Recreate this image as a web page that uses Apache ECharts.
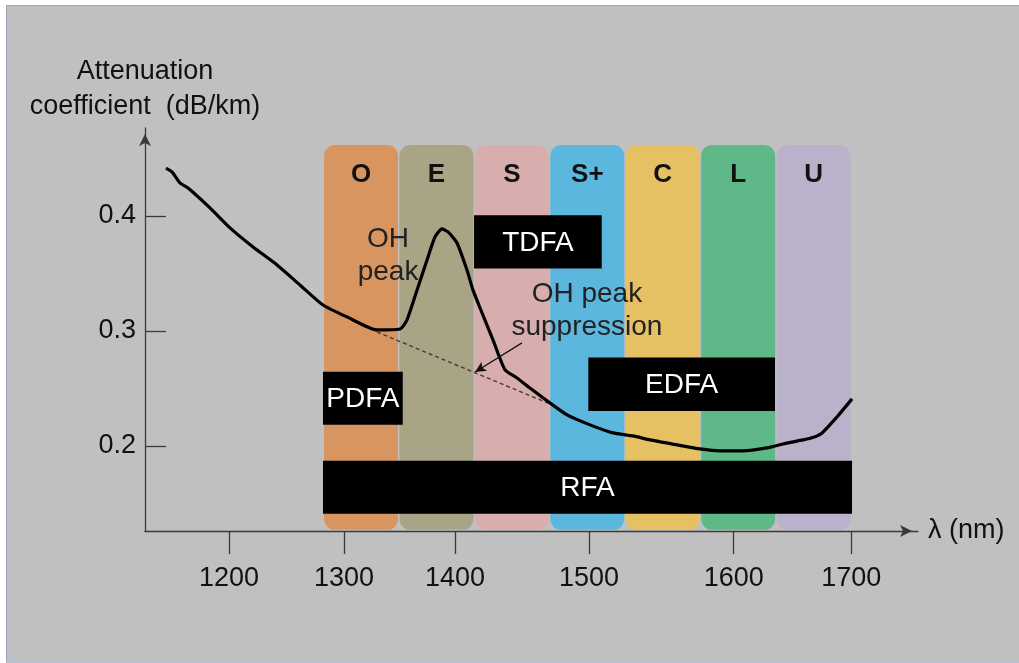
<!DOCTYPE html>
<html><head><meta charset="utf-8">
<script src="https://cdn.jsdelivr.net/npm/echarts@6/dist/echarts.min.js"></script>
<style>
html,body{margin:0;padding:0;background:#fff;}
#bg{position:absolute;left:6px;top:5px;width:1013px;height:654px;background:#c0c0c0;border-left:1px solid #9aa4b4;border-top:1px solid #9aa4b4;border-bottom:3px solid #b9c1cd;}
#chart{position:absolute;left:0;top:0;width:1019px;height:663px;}
</style></head><body>
<div id="bg"></div><div id="chart"></div>
<script>
// ---- data ----
const bandNames = ['O','E','S','S+','C','L','U'];
const bandEdges = [1275.8,1336.4,1397.0,1457.6,1518.2,1578.8,1639.4,1700.0];
const bandTop = 0.4617, bandBottom = 0.127;

const ampNames = ['RFA','PDFA','TDFA','EDFA'];
const ampFrom  = [1275.5,1275.5,1396.9,1488.7];
const ampTo    = [1700.6,1339.6,1499.5,1638.7];
const ampHigh  = [0.1870,0.2646,0.4006,0.2768];
const ampLow   = [0.1409,0.2183,0.3542,0.2304];

const wavelength = [1149.4,1154.2,1160.6,1167.1,1184.7,1200.8,1219.3,1238.6,1257.0,1275.5,1294.8,1318.9,1337.4,1343.0,1351.1,1359.1,1365.5,1371.1,1376.0,1383.2,1391.2,1396.0,1403.3,1412.1,1421.8,1431.4,1441.8,1457.9,1471.6,1490.1,1508.5,1524.6,1538.3,1560.0,1578.4,1594.5,1613.0,1632.3,1645.1,1661.2,1668.4,1676.5,1688.5,1700.6];
const attenuation = [0.4417,0.4383,0.4287,0.4243,0.4070,0.3896,0.3730,0.3574,0.3400,0.3226,0.3122,0.3009,0.3017,0.3096,0.3357,0.3617,0.3817,0.3887,0.3861,0.3765,0.3530,0.3357,0.3157,0.2922,0.2661,0.2591,0.2504,0.2374,0.2270,0.2183,0.2113,0.2087,0.2052,0.2009,0.1974,0.1957,0.1957,0.1983,0.2017,0.2052,0.2070,0.2113,0.2252,0.2409];

const suppressionX = [1318.9, 1457.9];
const suppressionY = [0.2991, 0.2365];
const arrowFrom = [1435.4, 0.2896];
const arrowTo   = [1397.7, 0.2643];

const noteTexts = ['OH\npeak', 'OH peak\nsuppression'];
const noteX = [1327.8, 1487.6];
const noteY = [0.3652, 0.3174];

const xTickValues = [1200, 1292.4, 1381.6, 1489.3, 1605.5, 1700];
const xTickLabels = ['1200','1300','1400','1500','1600','1700'];
const yTickValues = [0.2, 0.3, 0.4];
const yTickLabels = ['0.2','0.3','0.4'];

// ---- styles ----
const bandColors = ['#d9955f','#aaa486','#d7aead','#5cb7df','#e6c163','#5eb887','#b9b2ca'];
const FONT = '"Liberation Sans", Arial, sans-serif';
const AX = '#3a3a3a';

function nearestLabel(vals, labels, v){
  let best = 0;
  for (let i = 1; i < vals.length; i++) if (Math.abs(vals[i]-v) < Math.abs(vals[best]-v)) best = i;
  return labels[best];
}

const chart = echarts.init(document.getElementById('chart'), null, {renderer:'canvas'});
chart.setOption({
  animation:false,
  backgroundColor:'transparent',
  grid:{left:145, right:101, top:128, bottom:132, containLabel:false, outerBoundsMode:'none'},
  xAxis:{
    type:'value', min:1132.5, max:1753.6,
    axisLine:{show:true, onZero:false, lineStyle:{color:AX, width:1.3}, symbol:['none','arrow'], symbolSize:[9,12], symbolOffset:[0,-6]},
    axisTick:{show:true, customValues:xTickValues, length:23, lineStyle:{color:AX, width:1.3}},
    axisLabel:{customValues:xTickValues, formatter:v=>nearestLabel(xTickValues,xTickLabels,v), margin:34, fontSize:27, color:'#111', fontFamily:FONT},
    splitLine:{show:false},
    name:'λ (nm)', nameLocation:'end', nameGap:10,
    nameTextStyle:{fontSize:27, color:'#111', fontFamily:FONT, padding:[0,0,12,0]}
  },
  yAxis:{
    type:'value', min:0.126, max:0.4765,
    axisLine:{show:true, onZero:false, lineStyle:{color:AX, width:1.3}, symbol:['none','arrow'], symbolSize:[9,12], symbolOffset:[0,-6]},
    axisTick:{show:true, customValues:yTickValues, inside:true, length:21, lineStyle:{color:AX, width:1.3}},
    axisLabel:{customValues:yTickValues, formatter:v=>nearestLabel(yTickValues,yTickLabels,v), margin:9, fontSize:27, color:'#111', fontFamily:FONT, padding:[0,0,14,0]},
    splitLine:{show:false},
    name:'Attenuation\ncoefficient  (dB/km)', nameLocation:'end', nameGap:4,
    nameTextStyle:{fontSize:27, lineHeight:35, color:'#111', fontFamily:FONT, align:'center'}
  },
  series:[
    {
      type:'custom', name:'bands', z:1, silent:true,
      data: bandNames.map((n,i)=>[bandEdges[i], bandEdges[i+1], bandTop, bandBottom]),
      encode:{x:[0,1], y:[2,3]},
      renderItem:function(params, api){
        const i = params.dataIndex;
        const p0 = api.coord([api.value(0), api.value(2)]);
        const p1 = api.coord([api.value(1), api.value(3)]);
        return {type:'group', children:[
          {type:'rect', shape:{x:p0[0]+0.7, y:p0[1], width:p1[0]-p0[0]-1.4, height:p1[1]-p0[1], r:11}, style:{fill:bandColors[i]}},
          {type:'text', style:{text:bandNames[i], x:(p0[0]+p1[0])/2, y:p0[1]+30, align:'center', verticalAlign:'middle', font:'bold 26px '+FONT, fill:'#111'}}
        ]};
      }
    },
    {
      type:'custom', name:'amplifiers', z:2, silent:true,
      data: ampNames.map((n,i)=>[ampFrom[i], ampTo[i], ampHigh[i], ampLow[i]]),
      encode:{x:[0,1], y:[2,3]},
      renderItem:function(params, api){
        const i = params.dataIndex;
        const p0 = api.coord([api.value(0), api.value(2)]);
        const p1 = api.coord([api.value(1), api.value(3)]);
        return {type:'group', children:[
          {type:'rect', shape:{x:p0[0], y:p0[1], width:p1[0]-p0[0], height:p1[1]-p0[1]}, style:{fill:'#000'}},
          {type:'text', style:{text:ampNames[i], x:(p0[0]+p1[0])/2, y:(p0[1]+p1[1])/2+1, align:'center', verticalAlign:'middle', font:'28px '+FONT, fill:'#fff'}}
        ]};
      }
    },
    {
      type:'line', name:'suppressed', z:3, silent:true, showSymbol:false,
      data: suppressionX.map((x,i)=>[x, suppressionY[i]]),
      lineStyle:{color:'#4a3a30', width:1.4, type:[4,3]},
      markLine:{silent:true, symbol:['none','arrow'], symbolSize:[8,11], label:{show:false},
        lineStyle:{color:'#111', width:1.3, type:'solid'},
        data:[[{coord:arrowFrom},{coord:arrowTo}]]}
    },
    {
      type:'line', name:'attenuation', z:4, silent:true, showSymbol:false, smooth:0.2,
      data: wavelength.map((w,i)=>[w, attenuation[i]]),
      lineStyle:{color:'#000', width:3.2}
    },
    {
      type:'custom', name:'notes', z:5, silent:true,
      data: noteTexts.map((t,i)=>[noteX[i], noteY[i]]),
      encode:{x:0, y:1},
      renderItem:function(params, api){
        const i = params.dataIndex;
        const p = api.coord([api.value(0), api.value(1)]);
        return {type:'text', style:{text:noteTexts[i], x:p[0], y:p[1], align:'center', verticalAlign:'middle', font:'28px '+FONT, lineHeight:33, fill:'#222'}};
      }
    }
  ]
});
</script>
</body></html>
